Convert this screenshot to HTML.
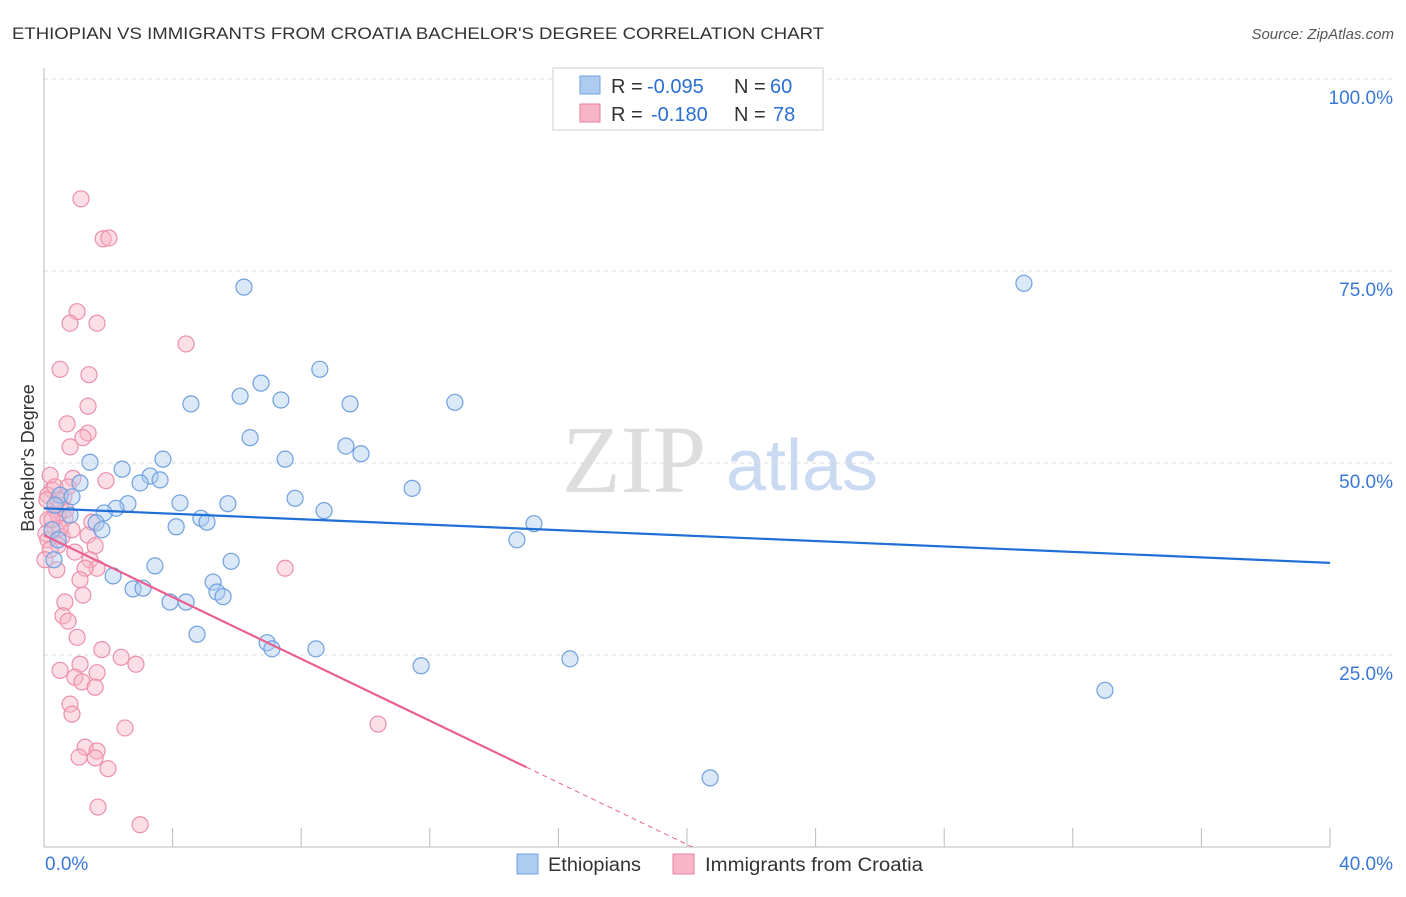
<!DOCTYPE html>
<html><head><meta charset="utf-8"><style>
body{margin:0;background:#fff;font-family:"Liberation Sans",sans-serif}
svg text{font-family:"Liberation Sans",sans-serif}
</style></head><body>
<svg id="c" width="1406" height="892" xmlns="http://www.w3.org/2000/svg">
<text x="12" y="39" font-size="17" fill="#333" textLength="812" lengthAdjust="spacingAndGlyphs">ETHIOPIAN VS IMMIGRANTS FROM CROATIA BACHELOR'S DEGREE CORRELATION CHART</text>
<text x="1394" y="39" font-size="15" fill="#555" font-style="italic" text-anchor="end">Source: ZipAtlas.com</text>
<text x="34" y="458" font-size="18" fill="#333" text-anchor="middle" transform="rotate(-90 34 458)">Bachelor's Degree</text>
<g><text x="634" y="492" font-size="96" fill="#ddd" font-family="Liberation Serif" text-anchor="middle" style="font-family:'Liberation Serif',serif">ZIP</text><text x="802" y="490" font-size="72" fill="#c9daf2" text-anchor="middle">atlas</text></g>
<g id="grid"></g><g id="axes"></g><g id="pts"></g><g id="lines"></g>
<g>
<rect x="553" y="68" width="270" height="62" fill="#fff" stroke="#ccc"/>
<rect x="580" y="76" width="20" height="18" fill="#aecbf0" stroke="#6fa0e0"/>
<rect x="580" y="104" width="20" height="18" fill="#f7b6c8" stroke="#e87fa0"/>
<text x="611" y="93" font-size="20" fill="#333">R =</text><text x="647" y="93" font-size="20" fill="#2a6fd6">-0.095</text>
<text x="734" y="93" font-size="20" fill="#333">N =</text><text x="770" y="93" font-size="20" fill="#2a6fd6">60</text>
<text x="611" y="121" font-size="20" fill="#333">R =</text><text x="651" y="121" font-size="20" fill="#2a6fd6">-0.180</text>
<text x="734" y="121" font-size="20" fill="#333">N =</text><text x="773" y="121" font-size="20" fill="#2a6fd6">78</text>
</g>
<g>
<rect x="517" y="854" width="21" height="20" fill="#aecbf0" stroke="#6fa0e0"/>
<text x="548" y="871" font-size="19" fill="#333" textLength="93" lengthAdjust="spacingAndGlyphs">Ethiopians</text>
<rect x="673" y="854" width="21" height="20" fill="#f7b6c8" stroke="#e87fa0"/>
<text x="705" y="871" font-size="19" fill="#333" textLength="218" lengthAdjust="spacingAndGlyphs">Immigrants from Croatia</text>
</g>
</svg>
<script>
const blueX=[6.22,30.48,8.58,6.75,6.10,7.37,4.57,9.52,12.78,6.41,9.39,9.86,7.50,3.70,1.43,2.43,3.30,3.61,2.99,1.12,11.45,7.81,4.23,5.72,2.61,2.24,1.87,8.71,0.81,1.62,4.88,5.07,4.11,15.24,1.80,14.71,5.82,3.45,2.15,5.26,5.38,5.57,2.77,3.08,3.92,4.42,4.76,6.94,7.09,8.46,11.73,16.36,33.0,20.72,0.50,0.87,0.34,0.25,0.44,0.31];
const blueY=[72.9,73.4,62.2,60.4,58.7,58.2,57.7,57.7,57.9,53.3,52.2,51.2,50.5,50.5,50.1,49.2,48.3,47.8,47.4,47.4,46.7,45.4,44.8,44.7,44.7,44.1,43.5,43.8,43.2,42.2,42.8,42.3,41.7,42.1,41.3,40.0,37.2,36.6,35.3,34.5,33.2,32.6,33.6,33.7,31.9,31.9,27.7,26.6,25.8,25.8,23.6,24.5,20.4,9.0,45.8,45.6,44.5,41.3,40.0,37.4];
const pinkX=[1.15,1.84,2.02,1.03,0.81,1.65,4.42,0.50,1.40,1.37,0.72,1.37,1.21,0.81,0.90,0.62,0.50,1.93,0.25,0.12,0.34,0.65,1.49,0.12,0.34,0.06,0.56,0.44,1.37,1.59,0.96,1.43,1.65,1.28,0.40,0.12,1.12,1.21,0.65,0.59,0.75,1.03,1.80,2.40,2.86,1.12,0.50,1.65,0.96,1.18,1.59,0.81,0.87,7.50,10.39,2.52,1.28,1.65,1.09,1.59,1.99,1.68,2.99,0.19,0.34,0.09,0.75,0.44,0.19,0.03,0.68,0.87,0.50,0.25,0.44];
const pinkY=[84.4,79.2,79.3,69.7,68.2,68.2,65.5,62.2,61.5,57.4,55.1,53.9,53.3,52.1,48.0,45.6,44.5,47.7,46.5,45.8,43.9,42.8,42.3,42.6,41.5,40.8,40.4,39.3,40.6,39.2,38.4,37.4,36.3,36.3,36.1,40.0,34.8,32.8,31.9,30.1,29.4,27.3,25.7,24.7,23.8,23.8,23.0,22.7,22.1,21.5,20.8,18.6,17.3,36.3,16.0,15.5,13.0,12.5,11.7,11.6,10.2,5.2,2.9,48.4,46.9,45.2,46.9,43.2,38.7,37.4,43.9,41.3,41.5,42.6,45.2];
const yTicks=[25,50,75,100];
const yTickLabels=["25.0%","50.0%","75.0%","100.0%"];
const xTicks=[0,4,8,12,16,20,24,28,32,36,40];
const blueFit=[44.1,37.0];
const pinkFit=[40.6,10.4,15];
const X=v=>44+v*32.15, Y=v=>847-v*7.68;
const NS="http://www.w3.org/2000/svg";
function mk(p,t,a){const e=document.createElementNS(NS,t);for(const k in a)e.setAttribute(k,a[k]);p.appendChild(e);return e;}
const g=document.getElementById('grid'),ax=document.getElementById('axes'),pts=document.getElementById('pts'),ln=document.getElementById('lines');
yTicks.forEach((t,i)=>{const l=mk(g,'line',{x1:44,x2:1394,y1:Y(t),y2:Y(t),stroke:'#ddd','stroke-dasharray':'4 4'});


const tx=mk(g,'text',{x:1393,y:Y(t)+25,'font-size':19,fill:'#3a78d8','text-anchor':'end'});tx.textContent=yTickLabels[i];

});
mk(ax,'line',{x1:44,x2:44,y1:68,y2:847,stroke:'#bbb'});
mk(ax,'line',{x1:44,x2:1330,y1:847,y2:847,stroke:'#bbb'});
xTicks.forEach(t=>{const l=mk(ax,'line',{x1:X(t),x2:X(t),y1:828,y2:847,stroke:'#bbb'});

});
let t0=mk(ax,'text',{x:45,y:870,'font-size':19,fill:'#3a78d8'});t0.textContent='0.0%';


let t1=mk(ax,'text',{x:1393,y:870,'font-size':19,fill:'#3a78d8','text-anchor':'end'});t1.textContent='40.0%';


pinkX.forEach((x,i)=>{const c=mk(pts,'circle',{cx:X(x),cy:Y(pinkY[i]),r:8,fill:'rgba(247,182,200,0.45)',stroke:'#ec8fac','stroke-width':1.2});

});
blueX.forEach((x,i)=>{const c=mk(pts,'circle',{cx:X(x),cy:Y(blueY[i]),r:8,fill:'rgba(174,203,240,0.45)',stroke:'#6fa0e0','stroke-width':1.2});

});
const bl=mk(ln,'line',{x1:X(0),y1:Y(blueFit[0]),x2:X(40),y2:Y(blueFit[1]),stroke:'#1f6fd6','stroke-width':2.2});


const pl=mk(ln,'line',{x1:X(0),y1:Y(pinkFit[0]),x2:X(pinkFit[2]),y2:Y(pinkFit[1]),stroke:'#e8608f','stroke-width':2.2});


const sl=(pinkFit[1]-pinkFit[0])/pinkFit[2], xz=-pinkFit[0]/sl;
const pd=mk(ln,'line',{x1:X(pinkFit[2]),y1:Y(pinkFit[1]),x2:X(xz),y2:Y(0),stroke:'#e8608f','stroke-width':1,'stroke-dasharray':'5 4'});


</script>
</body></html>
